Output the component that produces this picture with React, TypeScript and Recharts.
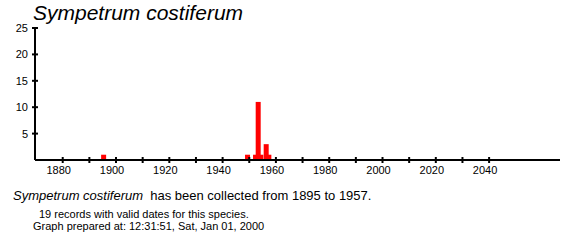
import { BarChart, Bar, XAxis, YAxis } from "recharts";

// records per year
const years = [1895, 1949, 1952, 1953, 1954, 1956, 1957];
const counts = [1, 1, 1, 11, 1, 3, 1];

const yearTicks = [1880, 1890, 1900, 1910, 1920, 1930, 1940, 1950, 1960, 1970, 1980, 1990, 2000, 2010, 2020, 2030, 2040];
const countTicks = [5, 10, 15, 20, 25];

const species = "Sympetrum costiferum";
const firstYear = 1895;
const lastYear = 1957;
const recordCount = 19;
const preparedAt = "12:31:51, Sat, Jan 01, 2000";

const data = years.map((year, i) => ({ year, count: counts[i] }));

const FONT = '"Liberation Sans", Arial, Helvetica, sans-serif';

function YearTick({ x, y, payload }: any) {
  return (
    <g>
      <line x1={x} x2={x} y1={y - 3} y2={y + 3} stroke="#000" strokeWidth={2} />
      {payload.value % 20 === 0 && (
        <text x={x - 4} y={y + 14} textAnchor="middle" fontSize={11} fontFamily={FONT} fill="#000">
          {payload.value}
        </text>
      )}
    </g>
  );
}

function CountTick({ x, y, payload }: any) {
  return (
    <g>
      <line x1={x - 3} x2={x + 3} y1={y} y2={y} stroke="#000" strokeWidth={2} />
      <text x={x - 7} y={y + 4} textAnchor="end" fontSize={11} fontFamily={FONT} fill="#000">
        {payload.value}
      </text>
    </g>
  );
}

// bars in the original are wider than one year, so widen around the centre
function WideBar({ x, y, width, height, fill }: any) {
  const cx = x + width / 2 + 1;
  return <rect x={cx - 2.5} y={y} width={5} height={height} fill={fill} />;
}

export default function App() {
  return (
    <div style={{ position: "relative", width: 581, height: 245, fontFamily: FONT, color: "#000" }}>
      <style>{"body{margin:0}"}</style>
      <BarChart width={581} height={245} data={data} margin={{ top: 28, right: 21, left: 0, bottom: 65 }}>
        <XAxis
          dataKey="year"
          type="number"
          domain={[1869.6, 2066.6]}
          allowDataOverflow
          ticks={yearTicks}
          interval={0}
          height={20}
          tickSize={0}
          tickMargin={0}
          tickLine={false}
          axisLine={{ stroke: "#000", strokeWidth: 2 }}
          tick={<YearTick />}
        />
        <YAxis
          type="number"
          domain={[0, 25]}
          ticks={countTicks}
          interval={0}
          width={35}
          tickSize={0}
          tickMargin={0}
          tickLine={false}
          axisLine={{ stroke: "#000", strokeWidth: 2 }}
          tick={<CountTick />}
        />
        <Bar dataKey="count" fill="#ff0000" shape={<WideBar />} isAnimationActive={false} />
      </BarChart>

      <div style={{ position: "absolute", left: 33, top: 2, fontSize: 21, lineHeight: 1, fontStyle: "italic", whiteSpace: "pre" }}>
        {species}
      </div>
      <div style={{ position: "absolute", left: 13, top: 189, fontSize: 13, lineHeight: 1, whiteSpace: "pre" }}>
        <i>{species}</i>
        {`  has been collected from ${firstYear} to ${lastYear}.`}
      </div>
      <div style={{ position: "absolute", left: 39, top: 208.5, fontSize: 11, lineHeight: 1, whiteSpace: "pre" }}>
        {`${recordCount} records with valid dates for this species.`}
      </div>
      <div style={{ position: "absolute", left: 33, top: 220.5, fontSize: 11, lineHeight: 1, whiteSpace: "pre" }}>
        {`Graph prepared at: ${preparedAt}`}
      </div>
    </div>
  );
}
